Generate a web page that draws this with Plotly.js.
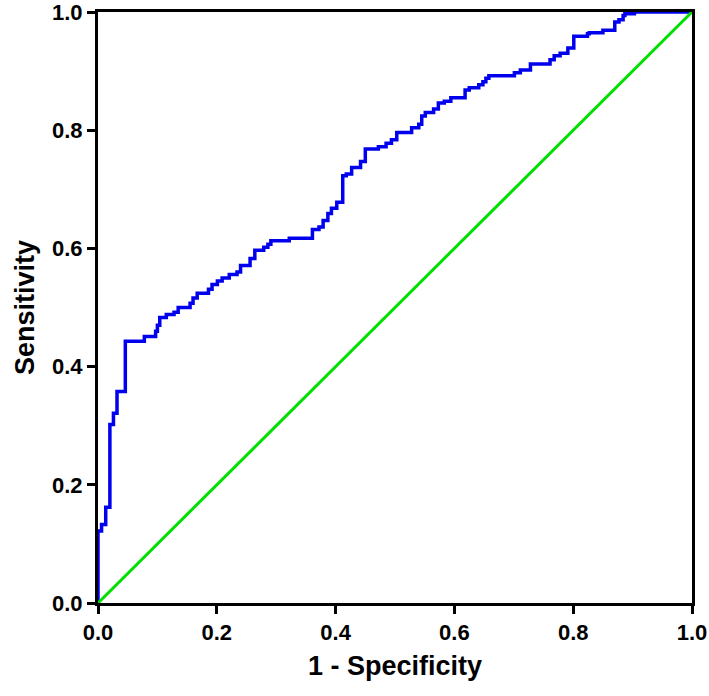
<!DOCTYPE html>
<html>
<head>
<meta charset="utf-8">
<script src="https://cdn.plot.ly/plotly-3.0.1.min.js"></script>
<style>html,body{margin:0;padding:0;background:#fff;}#chart{width:709px;height:696px;}</style>
</head>
<body>
<div id="chart"></div>
<script>
// ROC curve vertices (top of each riser)
var fpr = [0, 0, 0.006, 0.013, 0.020, 0.026, 0.032, 0.046, 0.078, 0.097, 0.100, 0.104, 0.115, 0.128, 0.135,
  0.155, 0.160, 0.167, 0.186, 0.192, 0.201, 0.209, 0.221, 0.234, 0.240, 0.256, 0.264, 0.279, 0.286, 0.291,
  0.322, 0.361, 0.372, 0.379, 0.387, 0.393, 0.402, 0.412, 0.418, 0.427, 0.442, 0.450, 0.472, 0.485, 0.494,
  0.503, 0.528, 0.540, 0.545, 0.551, 0.565, 0.573, 0.583, 0.594, 0.618, 0.625, 0.641, 0.648, 0.653, 0.658,
  0.701, 0.711, 0.728, 0.761, 0.768, 0.778, 0.791, 0.801, 0.824, 0.827, 0.850, 0.870, 0.877, 0.884, 0.887,
  0.903, 1.0];
var tpr = [0, 0.122, 0.133, 0.162, 0.302, 0.321, 0.358, 0.443, 0.451, 0.460, 0.470, 0.483, 0.488, 0.492, 0.500,
  0.507, 0.516, 0.524, 0.531, 0.539, 0.545, 0.550, 0.556, 0.560, 0.571, 0.583, 0.597, 0.602, 0.607, 0.613,
  0.617, 0.632, 0.636, 0.647, 0.659, 0.668, 0.678, 0.723, 0.726, 0.737, 0.747, 0.768, 0.772, 0.778, 0.784,
  0.796, 0.804, 0.810, 0.824, 0.830, 0.836, 0.846, 0.849, 0.855, 0.868, 0.872, 0.877, 0.882, 0.888, 0.892,
  0.897, 0.902, 0.912, 0.919, 0.926, 0.930, 0.939, 0.959, 0.963, 0.965, 0.969, 0.983, 0.987, 0.994, 0.997,
  1.0, 1.0];
// Reference (chance) line
var refX = [0, 1];
var refY = [0, 1];
var tickVals = [0, 0.2, 0.4, 0.6, 0.8, 1.0];
var tickText = ["0.0", "0.2", "0.4", "0.6", "0.8", "1.0"];
var xTitle = "1 - Specificity";
var yTitle = "Sensitivity";

var font = {family: "Liberation Sans, Arial, sans-serif", color: "#000", weight: "bold"};

var traces = [
  {x: fpr, y: tpr, type: "scatter", mode: "lines", line: {color: "#0000ee", width: 3.5, shape: "hv"}, cliponaxis: false, hoverinfo: "x+y"},
  {x: refX, y: refY, type: "scatter", mode: "lines", line: {color: "#00e000", width: 3}, cliponaxis: false}
];

var axisCommon = {
  range: [0, 1],
  tickvals: tickVals,
  ticktext: tickText,
  ticks: "outside",
  ticklen: 8,
  tickwidth: 3,
  tickcolor: "#000",
  showline: true,
  linecolor: "#000",
  linewidth: 3,
  mirror: true,
  showgrid: false,
  zeroline: false,
  layer: "below traces",
  ticklabeloverflow: "allow",
  fixedrange: true
};

var layout = {
  width: 709,
  height: 696,
  margin: {l: 98, r: 17, t: 12, b: 93},
  paper_bgcolor: "#fff",
  plot_bgcolor: "#fff",
  showlegend: false,
  xaxis: Object.assign({}, axisCommon, {
    tickfont: Object.assign({}, font, {size: 22}),
    title: {text: xTitle, font: Object.assign({}, font, {size: 27}), standoff: 12}
  }),
  yaxis: Object.assign({}, axisCommon, {
    tickfont: Object.assign({}, font, {size: 22}),
    title: {text: yTitle, font: Object.assign({}, font, {size: 27}), standoff: 10}
  })
};

Plotly.newPlot("chart", traces, layout, {displayModeBar: false, staticPlot: true});
</script>
</body>
</html>
